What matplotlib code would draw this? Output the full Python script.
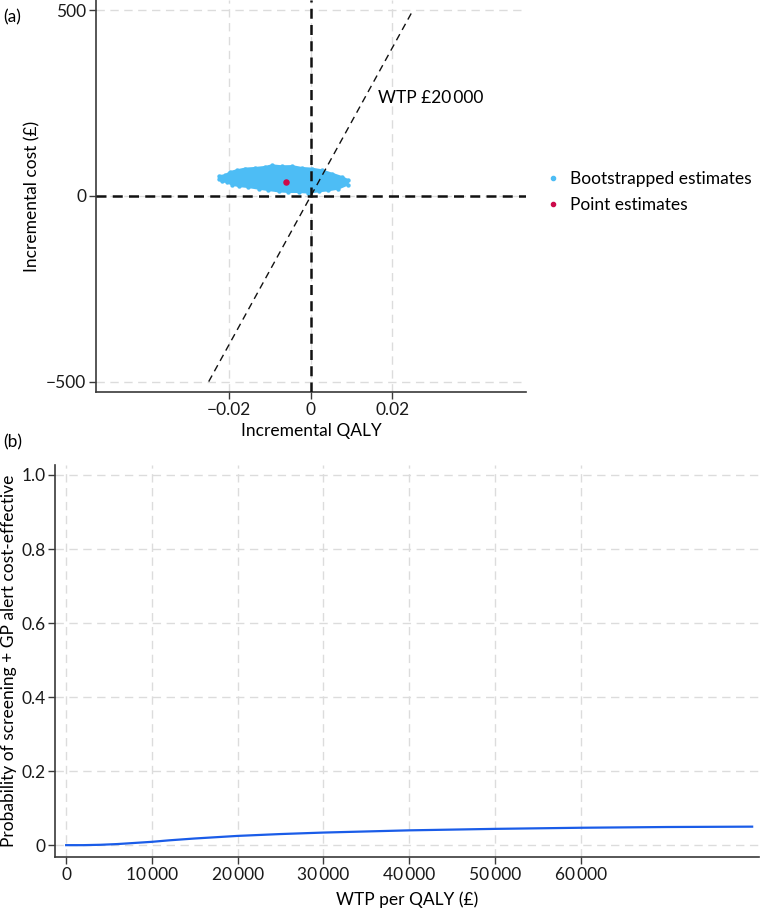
import numpy as np
import matplotlib.pyplot as plt
from matplotlib.lines import Line2D

plt.rcParams['font.family'] = ['Lato', 'DejaVu Sans']
plt.rcParams['axes.unicode_minus'] = True

# (a) cost-effectiveness plane: outline of bootstrap cloud
cloud_qaly = [-0.0224, -0.0210, -0.0197, -0.0181, -0.0161, -0.0136, -0.0112, -0.0095,
              -0.0071, -0.0046, -0.0022, 0.0002, 0.0027, 0.0051, 0.0076, 0.0092,
              0.0090, 0.0067, 0.0043, 0.0019, -0.0006, -0.0030, -0.0055, -0.0079,
              -0.0104, -0.0128, -0.0153, -0.0177, -0.0193, -0.0205, -0.0218, -0.0224]
cloud_cost = [53.9, 55.7, 64.6, 69.2, 73.7, 75.5, 78.2, 82.6,
              80.0, 80.5, 75.5, 73.7, 69.2, 60.3, 51.2, 42.3,
              30.6, 19.8, 15.4, 12.6, 9.1, 10.9, 10.9, 12.6,
              16.2, 19.8, 24.2, 26.9, 30.6, 37.7, 39.5, 45.0]
point_qaly = -0.0060
point_cost = 37.7
wtp_line_qaly = [-0.025, 0.025]
wtp_threshold = 20000

# (b) acceptability curve
wtp = [0, 2000, 4000, 6000, 8000, 10000, 12000, 15000, 20000, 25000, 30000,
       35000, 40000, 50000, 60000, 70000, 80000]
prob = [0.0, 0.0, 0.001, 0.003, 0.006, 0.009, 0.013, 0.018, 0.025, 0.030, 0.034,
        0.037, 0.040, 0.044, 0.047, 0.049, 0.050]

cloud_col = '#4dbdf5'
point_col = '#cc0a4a'
grid_col = '#dcdcdc'
spine_col = '#3a3a3a'
fs = 12.5

fig = plt.figure(figsize=(7.6, 9.13), dpi=100)
ax1 = fig.add_axes([96/760, 1-392/913, 430/760, 392/913])
ax2 = fig.add_axes([55/760, 1-857/913, 704/760, 392/913])

for ax in (ax1, ax2):
    for s in ('top', 'right'):
        ax.spines[s].set_visible(False)
    for s in ('left', 'bottom'):
        ax.spines[s].set_color(spine_col)
        ax.spines[s].set_linewidth(1.2)
    ax.tick_params(direction='out', length=5, width=1, color=spine_col,
                   labelsize=fs, labelcolor='#1a1a1a', pad=2)
    ax.grid(True, color=grid_col, linestyle=(0, (6, 4)), linewidth=1)
    ax.set_axisbelow(True)

# panel a
ax1.set_xlim(-0.0526, 0.0527)
ax1.set_ylim(-528, 528)
ax1.set_xticks([-0.02, 0, 0.02])
ax1.set_xticklabels(['\u22120.02', '0', '0.02'])
ax1.set_yticks([-500, 0, 500])
ax1.set_yticklabels(['\u2212500', '0', '500'])

ax1.fill(cloud_qaly, cloud_cost, color=cloud_col, lw=1.5, ec=cloud_col, zorder=3)
ax1.scatter(cloud_qaly, cloud_cost, s=10, color=cloud_col, lw=0, zorder=3)
ax1.scatter([point_qaly], [point_cost], s=22, color=point_col, lw=0, zorder=5)

ax1.axhline(0, color='#111111', lw=1.8, ls=(0, (4, 2.5)), zorder=4)
ax1.axvline(0, color='#111111', lw=1.8, ls=(0, (4, 2.5)), zorder=4)
wtp_cost = [q * wtp_threshold for q in wtp_line_qaly]
ax1.plot(wtp_line_qaly, wtp_cost, color='#111111', lw=1, ls=(0, (5, 3.5)), zorder=4)
ax1.text(0.0165, 263, 'WTP £20\u2009000', fontsize=fs, va='center', ha='left')

ax1.set_xlabel('Incremental QALY', fontsize=fs, labelpad=4)
ax1.set_ylabel('Incremental cost (£)', fontsize=fs, labelpad=4)

handles = [Line2D([], [], marker='o', ls='none', color=cloud_col, markersize=3),
           Line2D([], [], marker='o', ls='none', color=point_col, markersize=3)]
fig.legend(handles, ['Bootstrapped estimates', 'Point estimates'],
           loc='center left', bbox_to_anchor=(530/760, 1-192/913), frameon=False,
           fontsize=fs, handlelength=0.8, handletextpad=0.6, labelspacing=0.6)

# panel b
ax2.plot(wtp, prob, color='#1a5ce8', lw=1.6, zorder=3)
ax2.set_xlim(-1300, 80800)
ax2.set_ylim(-0.032, 1.027)
ax2.set_xticks([0, 10000, 20000, 30000, 40000, 50000, 60000])
ax2.set_xticklabels(['0', '10\u2009000', '20\u2009000', '30\u2009000', '40\u2009000',
                     '50\u2009000', '60\u2009000'])
ax2.set_yticks([0, 0.2, 0.4, 0.6, 0.8, 1.0])
ax2.set_yticklabels(['0', '0.2', '0.4', '0.6', '0.8', '1.0'])
ax2.set_xlabel('WTP per QALY (£)', fontsize=fs, labelpad=6)
ax2.set_ylabel('Probability of screening + GP alert cost-effective', fontsize=fs, labelpad=3)

fig.text(3/760, 1-17/913, '(a)', fontsize=fs, va='center', ha='left')
fig.text(3/760, 1-442/913, '(b)', fontsize=fs, va='center', ha='left')

fig.savefig('out.png', dpi=100)
